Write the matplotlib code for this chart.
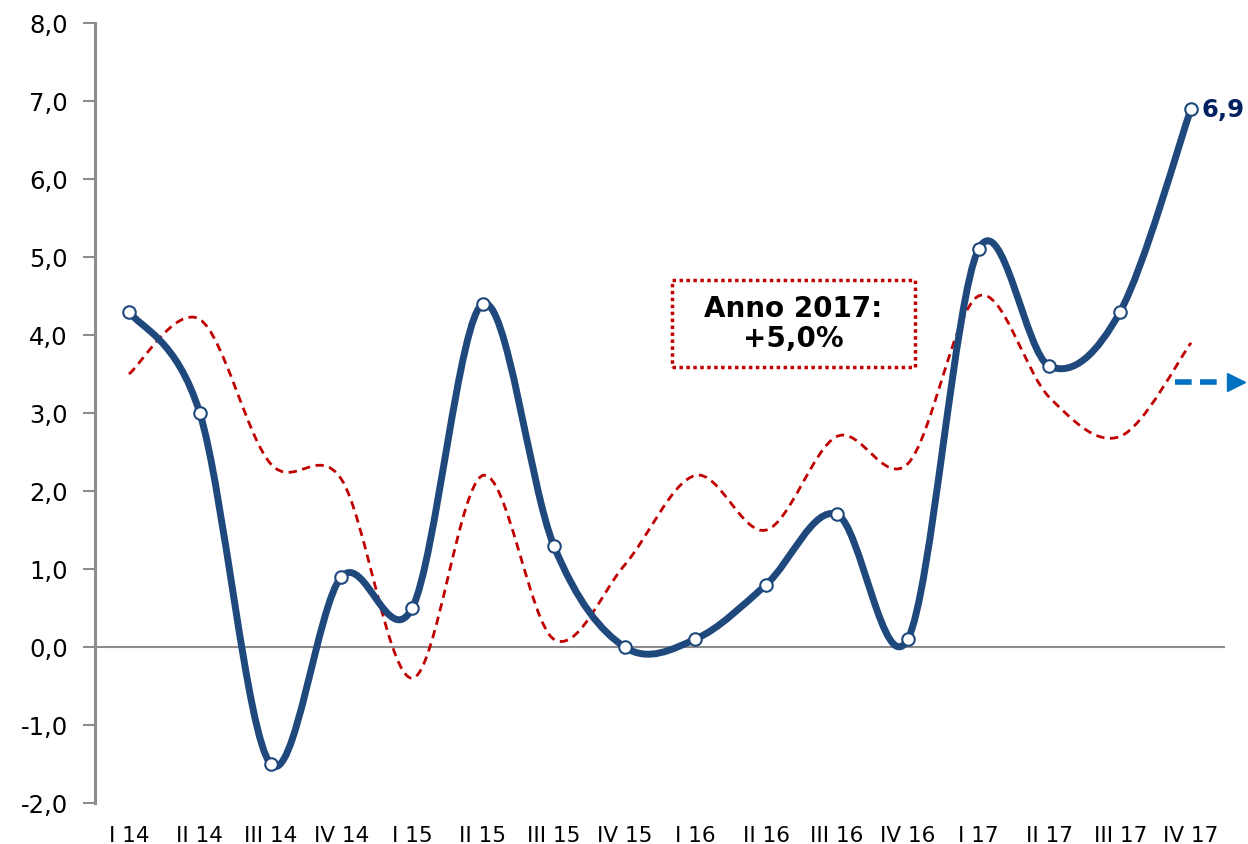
import numpy as np
import matplotlib.pyplot as plt
from matplotlib.path import Path
from matplotlib.patches import PathPatch, Rectangle

quarters = ['I 14', 'II 14', 'III 14', 'IV 14', 'I 15', 'II 15', 'III 15', 'IV 15',
            'I 16', 'II 16', 'III 16', 'IV 16', 'I 17', 'II 17', 'III 17', 'IV 17']
growth = [4.3, 3.0, -1.5, 0.9, 0.5, 4.4, 1.3, 0.0, 0.1, 0.8, 1.7, 0.1, 5.1, 3.6, 4.3, 6.9]
trend = [3.5, 4.2, 2.35, 2.15, -0.4, 2.2, 0.1, 1.05, 2.2, 1.5, 2.7, 2.35, 4.5, 3.2, 2.7, 3.9]
arrow_level = 3.4
last_label = '6,9'
box_text = 'Anno 2017:\n+5,0%'

blue = '#1F497D'
red = '#C00000'
grey = '#8C8C8C'


def smooth_path(xs, ys):
    # Excel-style smoothed line: cubic Bezier through the points
    p = np.column_stack([xs, ys]).astype(float)
    ext = np.vstack([p[0], p, p[-1]])
    verts = [p[0]]
    codes = [Path.MOVETO]
    for i in range(len(p) - 1):
        p0, p1, p2, p3 = ext[i], ext[i + 1], ext[i + 2], ext[i + 3]
        verts += [p1 + (p2 - p0) / 6, p2 - (p3 - p1) / 6, p2]
        codes += [Path.CURVE4] * 3
    return Path(verts, codes)


x = np.arange(len(quarters))

fig = plt.figure(figsize=(12.48, 8.45), dpi=100)
ax = fig.add_axes([95 / 1248, 1 - 804 / 845, 1130 / 1248, 780 / 845])

ax.add_patch(PathPatch(smooth_path(x, trend), fill=False, edgecolor=red, lw=2,
                       linestyle=(0, (3, 2)), zorder=2))
ax.add_patch(PathPatch(smooth_path(x, growth), fill=False, edgecolor=blue, lw=5,
                       capstyle='round', joinstyle='round', zorder=3))
ax.plot(x, growth, 'o', ms=9, mfc='white', mec=blue, mew=1.5, zorder=4)

ax.axhline(0, color=grey, lw=1.5, zorder=1)

ax.text(x[-1] + 0.15, growth[-1], last_label, color='#002060', fontsize=17.5,
        fontweight='bold', va='center', ha='left', clip_on=False)

# arrow at the right edge
ax.plot([x[-1] - 0.23, x[-1] + 0.36], [arrow_level, arrow_level], color='#0070C0',
        lw=4, linestyle=(0, (3, 1.5)), clip_on=False, solid_capstyle='butt')
ax.plot([x[-1] + 0.63], [arrow_level], marker='>', ms=13, color='#0070C0',
        mec='#0070C0', clip_on=False)

ax.add_patch(Rectangle((0.5106, 0.559), 0.215, 0.1115, transform=ax.transAxes,
                       fill=False, edgecolor=red, lw=2.5, linestyle=(0, (1, 1)),
                       zorder=5))
ax.text(0.618, 0.615, box_text, transform=ax.transAxes, ha='center', va='center',
        fontsize=20, fontweight='bold', linespacing=1.1, zorder=6)

ax.set_xlim(-0.48, 15.48)
ax.set_ylim(-2, 8)
ax.set_yticks(np.arange(-2, 9, 1))
ax.set_yticklabels([f'{v:.1f}'.replace('.', ',') for v in np.arange(-2, 9, 1)],
                   fontsize=17.5)
ax.set_xticks(x)
ax.set_xticklabels(quarters, fontsize=15.5)

for s in ['top', 'right', 'bottom']:
    ax.spines[s].set_visible(False)
ax.spines['left'].set_color(grey)
ax.spines['left'].set_linewidth(2.2)
ax.tick_params(axis='y', colors=grey, labelcolor='black', length=8.5, width=1.5,
               pad=11)
ax.tick_params(axis='x', length=0, pad=16)

fig.savefig('out.png', dpi=100)
